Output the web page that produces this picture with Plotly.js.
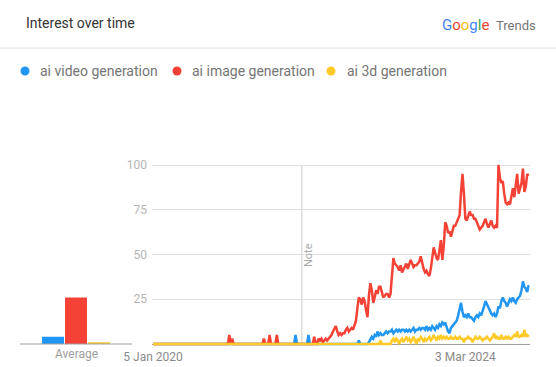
<!DOCTYPE html>
<html>
<head>
<meta charset="utf-8">
<script src="https://cdn.plot.ly/plotly-3.0.1.min.js"></script>
<style>
  html, body { margin: 0; padding: 0; background: #fff; }
  #chart { width: 556px; height: 367px; }
</style>
</head>
<body>
<div id="chart"></div>
<script>
// ---- Data (weekly Google Trends interest, 0-100) ----
const seriesNames = ['ai video generation', 'ai image generation', 'ai 3d generation'];
const seriesColors = ['#2196F3', '#F44336', '#FFCA28'];
const startWeek = '2020-01-05';
const xTickDates = ['2020-01-05', '2024-03-03'];
const xTickLabels = ['5 Jan 2020', '3 Mar 2024'];
const yTickVals = [25, 50, 75, 100];
const yTickLabels = ['25', '50', '75', '100'];
const averageValues = [4, 26, 1];
const noteDate = '2021-12-29';

const videoValues = [
  0,0,0,0,0,0,0,0,0,0, 0,0,0,0,0,0,0,0,0,0, 0,0,0,0,0,0,0,0,0,0, 0,0,0,0,0,0,0,0,0,0,
  0,0,0,0,0,0,0,0,0,0, 0,0,0,0,0,0,0,0,0,0, 0,0,0,0,0,0,0,0,0,0, 0,0,0,0,0,0,0,0,0,0,
  0,0,0,0,0,0,0,0,0,0, 0,0,0,0,0,0,0,0,0,
  5,
  0,0,0,0,0,0,0,0,
  5,
  0,0,0,0,0,0,0,0,0,0, 0,0,0,0,0,0,0,0,0,0, 0,0,0,0,0,0,0,0,0,0, 0,0,0,0,
  2,
  0,0,0,0,0,0,
  1,3,4,3,5,4,7,5,6,5,
  5,6,7,6,7,7,8,6,7,8,
  7,8,7,8,8,7,8,7,8,7,
  8,9,7,8,8,9,8,9,9,8,
  10,8,9,8,10,9,8,10,9,11,
  10,12,11,12,9,7,6,9,10,11,
  12,13,16,20,23,18,15,16,15,17,
  15,15,14,13,15,16,15,17,16,18,
  21,24,22,20,18,17,16,17,15,17,
  21,20,24,26,24,23,21,23,25,24,
  26,24,23,25,26,27,30,35,32,31,
  29,33
];

const imageValues = [
  0,0,0,0,0,0,0,0,0,0, 0,0,0,0,0,0,0,0,0,0, 0,0,0,0,0,0,0,0,0,0, 0,0,0,0,0,0,0,0,0,0,
  0,0,0,0,0,0,0,0,0,0, 0,0,0,
  5,0,3,0,
  0,0,0,0,0,0,0,0,0,0, 0,0,0,0,0,0,0,0,0,0,
  3,0,0,0,5,0,0,0,0,5,
  0,0,0,0,0,0,0,0,0,0, 0,0,0,0,0,0,0,0,0,0, 0,0,0,0,0,
  4,0,0,3,2,3,1,2,3,2,
  3,4,5,7,9,10,7,5,6,5,
  6,6,8,9,7,8,9,8,11,13,
  20,26,25,22,26,24,19,15,27,34,
  30,23,26,30,28,32,32,29,26,27,
  28,28,26,28,36,48,45,44,43,41,
  44,40,42,43,45,42,44,47,45,43,
  44,44,45,46,49,45,42,40,41,39,
  38,42,50,54,51,48,47,52,58,47,
  55,68,66,62,63,60,63,66,66,68,
  70,72,85,95,84,70,69,71,74,72,
  72,70,70,68,66,64,65,66,68,70,
  67,65,67,69,66,65,66,65,100,93,
  90,91,84,79,78,79,78,82,87,82,
  90,95,84,88,90,98,85,88,95,94
];

const threeDValues = [
  0,0,0,0,0,0,0,0,0,0, 0,0,0,0,0,0,0,0,0,0, 0,0,0,0,0,0,0,0,0,0, 0,0,0,0,0,0,0,0,0,0,
  0,0,0,0,0,0,0,0,0,0, 0,0,0,0,0,0,0,0,0,0, 0,0,0,0,0,0,0,0,0,0, 0,0,0,0,0,0,0,0,0,0,
  0,0,0,0,0,0,0,0,0,0, 0,0,0,0,0,0,0,0,0,0, 0,0,0,0,0,0,0,0,0,0, 0,0,0,0,0,0,0,0,0,0,
  0,0,0,0,0,0,0,0,0,0, 0,0,0,0,0,0,0,0,0,0, 0,0,0,0,0,0,0,0,0,0, 0,0,0,0,0,0,0,0,
  2,
  0,0,0,0,0,0,0,
  2,3,1,3,2,0,2,3,1,3,
  4,2,3,1,2,4,2,0,3,2,
  4,3,1,3,2,3,4,2,3,5,
  3,2,4,3,5,3,4,3,4,3,
  3,4,3,3,4,3,3,4,3,3,
  1,3,3,4,3,3,1,3,4,3,
  3,4,3,2,3,3,4,3,2,3,
  4,6,3,4,3,3,5,3,3,4,
  3,4,3,3,4,5,4,7,4,4,
  5,4,8,4,5,4
];

const seriesValues = [videoValues, imageValues, threeDValues];

// weekly dates
const DAY = 864e5, WEEK = 7 * DAY;
const t0 = Date.parse(startWeek + 'T00:00:00Z');
const dates = imageValues.map((_, i) => new Date(t0 + i * WEEK).toISOString().slice(0, 10));
const nWeeks = imageValues.length - 1;

// ---- pixel helpers ----
const W = 556, H = 367;
const px = x => x / W;
const py = y => 1 - y / H;

const FONT = 'Roboto, "Noto Sans", Arial, sans-serif';

const traces = seriesValues.map((vals, k) => ({
  type: 'scatter', mode: 'lines',
  x: dates, y: vals,
  xaxis: 'x', yaxis: 'y',
  line: { color: seriesColors[k], width: 2.5 },
  hoverinfo: 'skip', showlegend: false
}));

traces.unshift({
  type: 'bar',
  x: [0, 1, 2], y: averageValues,
  xaxis: 'x2', yaxis: 'y2',
  width: 0.957,
  marker: { color: seriesColors, line: { width: 0 } },
  hoverinfo: 'skip', showlegend: false
});

// y mapping: 0 -> 344px, 100 -> 165px (1.79 px/unit); padded by 2 units
const yPad = 2, pxPerUnit = 1.79;
const yDomain = [py(344 + yPad * pxPerUnit), py(165 - yPad * pxPerUnit)];

const xStart = new Date(t0 - 0.7 * WEEK).toISOString();
const xEnd = new Date(t0 + (nWeeks + 0.7) * WEEK).toISOString();

const annotations = [
  { text: 'Interest over time', x: px(24), y: py(23), xref: 'paper', yref: 'paper',
    xanchor: 'left', yanchor: 'middle', showarrow: false,
    font: { family: FONT, size: 14, color: '#333333' } },
  { text: '<span style="color:#4285F4">G</span><span style="color:#EA4335">o</span><span style="color:#FBBC05">o</span><span style="color:#4285F4">g</span><span style="color:#34A853">l</span><span style="color:#EA4335">e</span>',
    x: px(491), y: py(25), xref: 'paper', yref: 'paper',
    xanchor: 'right', yanchor: 'middle', showarrow: false,
    font: { family: FONT, size: 15, color: '#4285F4' } },
  { text: 'Trends', x: px(494), y: py(25), xref: 'paper', yref: 'paper',
    xanchor: 'left', yanchor: 'middle', showarrow: false,
    font: { family: FONT, size: 13, color: '#757575' } },
  { text: 'Average', x: px(76), y: py(354), xref: 'paper', yref: 'paper',
    xanchor: 'center', yanchor: 'middle', showarrow: false,
    font: { family: FONT, size: 12, color: '#9e9e9e' } },
  { text: 'Note', x: px(308), y: py(255), xref: 'paper', yref: 'paper',
    xanchor: 'center', yanchor: 'middle', showarrow: false, textangle: -90,
    font: { family: FONT, size: 11, color: '#aaaaaa' } }
];

const legendDotX = [25, 177, 331];
const legendTextX = [38, 190, 345];
const legendY = 71;
const shapes = [
  { type: 'line', xref: 'paper', yref: 'paper', x0: 0, x1: 1, y0: py(48), y1: py(48),
    line: { color: '#e0e0e0', width: 1 } },
  { type: 'line', xref: 'paper', yref: 'paper', x0: px(20), x1: px(132), y0: py(344), y1: py(344),
    line: { color: '#9e9e9e', width: 1 } },
  { type: 'line', xref: 'x', yref: 'y', x0: noteDate, x1: noteDate, y0: 0, y1: 100,
    line: { color: '#cccccc', width: 1 }, layer: 'below' }
];
seriesNames.forEach((name, k) => {
  shapes.push({ type: 'circle', xref: 'paper', yref: 'paper',
    x0: px(legendDotX[k] - 4.5), x1: px(legendDotX[k] + 4.5),
    y0: py(legendY + 4.5), y1: py(legendY - 4.5),
    fillcolor: seriesColors[k], line: { width: 0 } });
  annotations.push({ text: name, x: px(legendTextX[k]), y: py(legendY), xref: 'paper', yref: 'paper',
    xanchor: 'left', yanchor: 'middle', showarrow: false,
    font: { family: FONT, size: 14, color: '#757575' } });
});

const layout = {
  width: W, height: H,
  margin: { l: 0, r: 0, t: 0, b: 0 },
  paper_bgcolor: '#ffffff', plot_bgcolor: 'rgba(0,0,0,0)',
  font: { family: FONT },
  showlegend: false,
  hovermode: false,
  xaxis: {
    type: 'date', domain: [px(152), px(529.7)], range: [xStart, xEnd],
    anchor: 'y', showgrid: false, zeroline: false, showline: false,
    tickmode: 'array', tickvals: xTickDates, ticktext: xTickLabels,
    ticks: '', tickfont: { family: FONT, size: 12, color: '#8a8a8a' }
  },
  yaxis: {
    domain: yDomain, range: [-yPad, 100 + yPad], anchor: 'x',
    showgrid: true, gridcolor: '#e0e0e0', gridwidth: 1,
    zeroline: true, zerolinecolor: '#9e9e9e', zerolinewidth: 1, showline: false,
    tickmode: 'array', tickvals: yTickVals, ticktext: yTickLabels,
    ticks: '', ticklabelstandoff: 4,
    tickfont: { family: FONT, size: 12, color: '#b5b5b5' }
  },
  xaxis2: {
    domain: [px(20), px(132)], range: [-1.435, 3.435], anchor: 'y2',
    showgrid: false, zeroline: false, showline: false, showticklabels: false, ticks: ''
  },
  yaxis2: {
    domain: yDomain, range: [-yPad, 100 + yPad], anchor: 'x2',
    showgrid: false, zeroline: false, showline: false, showticklabels: false, ticks: ''
  },
  annotations: annotations,
  shapes: shapes
};

Plotly.newPlot('chart', traces, layout, { staticPlot: true, displayModeBar: false });
</script>
</body>
</html>
